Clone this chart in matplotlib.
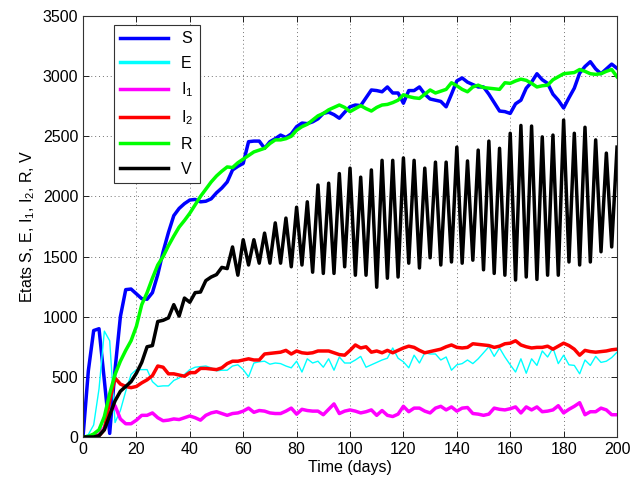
import numpy as np
import matplotlib
matplotlib.use("Agg")
import matplotlib.pyplot as plt

# ====== data (sampled every 2 days) ======
days = np.arange(0, 201, 2)

S = [0, 550, 885, 900, 470, 30, 560, 1000, 1225, 1230,
     1190, 1150, 1145, 1200, 1350, 1540, 1700, 1840, 1900, 1940,
     1970, 1975, 1955, 1960, 1980, 2030, 2070, 2120, 2220, 2250,
     2275, 2455, 2460, 2460, 2400, 2455, 2480, 2510, 2490, 2520,
     2580, 2610, 2605, 2620, 2645, 2690, 2700, 2680, 2650, 2700,
     2745, 2760, 2755, 2820, 2885, 2880, 2870, 2910, 2860, 2860,
     2775, 2880, 2880, 2910, 2850, 2810, 2800, 2790, 2745, 2850,
     2960, 2985, 2950, 2930, 2910, 2910, 2850, 2780, 2710, 2705,
     2690, 2770, 2800, 2900, 2950, 3020, 2970, 2940, 2850, 2800,
     2735, 2820, 2900, 3025, 3080, 3120, 3060, 3020, 3060, 3100, 3065]

E = [0, 20, 100, 400, 880, 800, 120, 220, 380, 520,
     560, 560, 560, 460, 420, 425, 425, 470, 490, 520,
     560, 580, 585, 590, 575, 550, 555, 555, 590, 600,
     560, 500, 615, 625, 630, 605, 615, 610, 590, 575,
     630, 540, 650, 615, 630, 580, 650, 555, 665, 615,
     615, 640, 670, 580, 600, 620, 640, 655, 740, 655,
     625, 575, 680, 615, 700, 690, 690, 640, 665, 555,
     600, 610, 640, 610, 650, 700, 750, 670, 740, 665,
     600, 540, 650, 530, 650, 595, 715, 665, 740, 610,
     680, 600, 595, 525, 640, 595, 670, 620, 630, 660, 705]

I1 = [0, 0, 5, 20, 80, 200, 260, 150, 110, 110,
      140, 180, 180, 200, 160, 135, 140, 150, 145, 160,
      175, 160, 140, 180, 200, 210, 195, 180, 195, 200,
      215, 240, 205, 220, 215, 200, 195, 195, 215, 240,
      190, 230, 220, 215, 215, 185, 230, 275, 195, 215,
      225, 215, 200, 210, 225, 180, 220, 180, 170, 190,
      255, 210, 240, 240, 215, 200, 240, 255, 225, 250,
      215, 240, 245, 195, 190, 180, 190, 240, 230, 225,
      235, 250, 200, 250, 225, 250, 210, 215, 225, 260,
      200, 230, 255, 285, 185, 210, 210, 240, 225, 185, 185]

I2 = [0, 0, 2, 10, 60, 300, 490, 440, 420, 410,
      420, 450, 475, 510, 590, 580, 525, 525, 515, 505,
      535, 535, 570, 570, 565, 560, 575, 610, 630, 630,
      640, 650, 640, 640, 690, 695, 700, 705, 720, 690,
      715, 700, 695, 700, 715, 715, 715, 700, 685, 680,
      720, 765, 740, 750, 705, 715, 700, 720, 700, 720,
      740, 755, 745, 720, 700, 710, 720, 730, 750, 765,
      745, 740, 745, 775, 770, 765, 760, 745, 755, 775,
      780, 800, 765, 750, 740, 745, 745, 755, 730, 755,
      780, 760, 730, 680, 720, 710, 705, 710, 715, 725, 730]

R = [0, 5, 25, 60, 170, 360, 520, 630, 720, 800,
     920, 1100, 1200, 1320, 1430, 1500, 1590, 1670, 1745, 1800,
     1860, 1930, 2000, 2060, 2120, 2170, 2210, 2245, 2240, 2280,
     2310, 2340, 2370, 2385, 2400, 2440, 2470, 2470, 2480, 2500,
     2550, 2580, 2600, 2635, 2670, 2690, 2720, 2740, 2760, 2740,
     2705, 2730, 2755, 2730, 2710, 2740, 2760, 2765, 2780, 2800,
     2845, 2830, 2820, 2815, 2850, 2885, 2860, 2875, 2890, 2945,
     2920, 2890, 2870, 2910, 2925, 2905, 2900, 2895, 2890, 2945,
     2940, 2960, 2975, 2965, 2940, 2910, 2920, 2925, 2970, 2995,
     3020, 3025, 3030, 3055, 3040, 3020, 3015, 3020, 3040, 3055, 2995]

V = [0, 0, 0, 10, 60, 180, 300, 380, 420, 460,
     530, 620, 750, 760, 960, 970, 990, 1100, 1005, 1155,
     1120, 1200, 1205, 1300, 1330, 1350, 1410, 1400, 1580, 1345,
     1640, 1430, 1640, 1445, 1695, 1445, 1780, 1445, 1820, 1415,
     1910, 1430, 1955, 1370, 2095, 1360, 2110, 1360, 2190, 1415,
     2235, 1345, 2160, 1345, 2220, 1245, 2300, 1320, 2300, 1330,
     2320, 1445, 2300, 1405, 2235, 1490, 2285, 1430, 2285, 1455,
     2410, 1445, 2295, 1470, 2385, 1390, 2460, 1360, 2400, 1345,
     2525, 1305, 2590, 1330, 2585, 1310, 2495, 1345, 2510, 1345,
     2635, 1455, 2525, 1430, 2575, 1455, 2470, 1540, 2360, 1580, 2410]

series = [
    (S, "S", "#0000ff", 2.5),
    (E, "E", "#00ffff", 1.0),
    (I1, "I$_1$", "#ff00ff", 2.5),
    (I2, "I$_2$", "#ff0000", 2.5),
    (R, "R", "#00ff00", 2.5),
    (V, "V", "#000000", 2.5),
]

# ====== figure ======
plt.rcParams["font.family"] = ["Liberation Sans", "DejaVu Sans"]
plt.rcParams["mathtext.fontset"] = "custom"
plt.rcParams["mathtext.rm"] = "Liberation Sans"
plt.rcParams["mathtext.it"] = "Liberation Sans"

fig = plt.figure(figsize=(6.35, 4.82), dpi=100)
ax = fig.add_axes([0.1307, 0.0934, 0.8410, 0.8734])

for vals, lab, col, lw in series:
    ax.plot(days, vals, color=col, linewidth=lw, label=lab)

ax.set_xlim(0, 200)
ax.set_ylim(0, 3500)
ax.set_xticks(np.arange(0, 201, 20))
ax.set_yticks(np.arange(0, 3501, 500))
ax.tick_params(direction="in", top=True, right=True, labelsize=11.5, length=4, width=0.6)
ax.grid(True, color="0.45", linestyle=(0, (1, 3)), linewidth=0.7)
for sp in ax.spines.values():
    sp.set_linewidth(0.8)
    sp.set_color("0.2")

ax.set_xlabel("Time (days)", fontsize=11.5, labelpad=2)
ax.set_ylabel("Etats S, E, I$_1$, I$_2$, R, V", fontsize=11.5, labelpad=4)

leg = ax.legend(loc="upper left", bbox_to_anchor=(0.058, 0.979), borderaxespad=0,
                fontsize=11.5, handlelength=3.0, labelspacing=0.6, fancybox=False,
                edgecolor="0.2", framealpha=1)
leg.get_frame().set_linewidth(0.8)
for line in leg.get_lines():
    line.set_linewidth(2.5)

plt.savefig("out.png", dpi=100)
